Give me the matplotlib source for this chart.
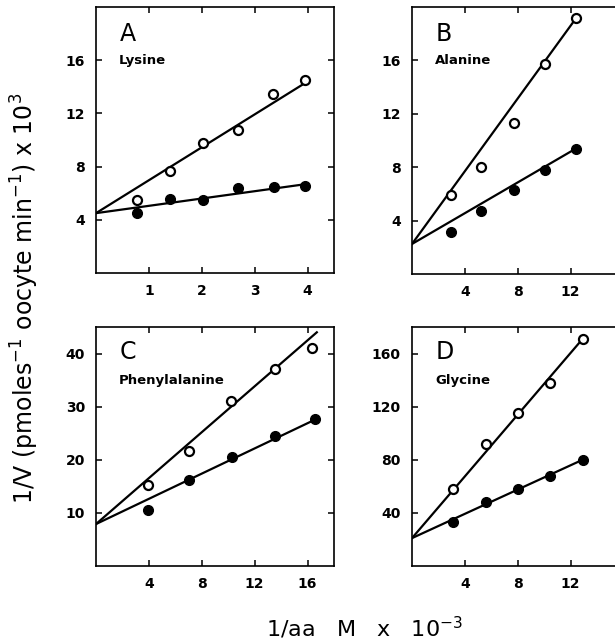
import numpy as np
import matplotlib.pyplot as plt

plt.rcParams.update({
    "font.family": "DejaVu Sans",
    "axes.linewidth": 1.2,
    "xtick.direction": "in",
    "ytick.direction": "in",
    "xtick.top": True,
    "ytick.right": True,
    "xtick.major.size": 4,
    "ytick.major.size": 4,
    "xtick.major.width": 1.1,
    "ytick.major.width": 1.1,
})

# ---------------- DATA ----------------
# A: Lysine
lys_x_open = [0.78, 1.4, 2.03, 2.68, 3.34, 3.95]
lys_y_open = [5.5, 7.7, 9.75, 10.75, 13.45, 14.5]
lys_x_fill = [0.78, 1.4, 2.03, 2.68, 3.36, 3.95]
lys_y_fill = [4.5, 5.6, 5.5, 6.4, 6.5, 6.55]
lys_line_open = ([0, 4.0], [4.5, 14.4])
lys_line_fill = ([0, 4.0], [4.5, 6.7])

# B: Alanine
ala_x_open = [2.93, 5.25, 7.7, 10.05, 12.4]
ala_y_open = [5.9, 8.0, 11.3, 15.75, 19.15]
ala_x_fill = [2.93, 5.25, 7.7, 10.05, 12.4]
ala_y_fill = [3.15, 4.75, 6.3, 7.8, 9.4]
ala_line_open = ([0, 12.4], [2.25, 19.15])
ala_line_fill = ([0, 12.4], [2.25, 9.4])

# C: Phenylalanine
phe_x_open = [3.9, 7.0, 10.2, 13.5, 16.3]
phe_y_open = [15.2, 21.7, 31.1, 37.1, 41.1]
phe_x_fill = [3.9, 7.05, 10.25, 13.5, 16.6]
phe_y_fill = [10.5, 16.25, 20.5, 24.5, 27.6]
phe_line_open = ([0, 16.7], [7.9, 44.0])
phe_line_fill = ([0, 16.6], [7.9, 27.6])

# D: Glycine
gly_x_open = [3.1, 5.6, 8.05, 10.4, 12.9]
gly_y_open = [58, 92, 115, 137.5, 171]
gly_x_fill = [3.1, 5.6, 8.05, 10.4, 12.9]
gly_y_fill = [33.25, 48.25, 58.25, 67.5, 80]
gly_line_open = ([0, 12.9], [21, 171])
gly_line_fill = ([0, 12.9], [21, 80])

panels = [
    ("A", "Lysine", lys_x_open, lys_y_open, lys_x_fill, lys_y_fill,
     lys_line_open, lys_line_fill, (0, 4.5), (0, 20), [1, 2, 3, 4], [4, 8, 12, 16]),
    ("B", "Alanine", ala_x_open, ala_y_open, ala_x_fill, ala_y_fill,
     ala_line_open, ala_line_fill, (0, 18), (0, 20), [4, 8, 12], [4, 8, 12, 16]),
    ("C", "Phenylalanine", phe_x_open, phe_y_open, phe_x_fill, phe_y_fill,
     phe_line_open, phe_line_fill, (0, 18), (0, 45), [4, 8, 12, 16], [10, 20, 30, 40]),
    ("D", "Glycine", gly_x_open, gly_y_open, gly_x_fill, gly_y_fill,
     gly_line_open, gly_line_fill, (0, 18), (0, 180), [4, 8, 12], [40, 80, 120, 160]),
]

# axes boxes in pixels (left, top, width, height) on a 615x642 canvas
# (right-hand panels run past the edge, as in the cropped original)
W, H = 615, 642
boxes = [(96, 7, 238, 266), (412, 7, 238, 267),
         (96, 327, 238, 239), (412, 327, 238, 239)]

# ---------------- PLOT ----------------
fig = plt.figure(figsize=(6.15, 6.42), dpi=100)

for (letter, name, xo, yo, xf, yf, lo, lf, xlim, ylim, xt, yt), (l, t, w, h) in zip(panels, boxes):
    ax = fig.add_axes([l / W, 1 - (t + h) / H, w / W, h / H])
    ax.plot(lo[0], lo[1], color='black', lw=1.6, zorder=2)
    ax.plot(lf[0], lf[1], color='black', lw=1.6, zorder=2)
    ax.plot(xo, yo, 'o', ms=6.5, mfc='white', mec='black', mew=1.6, zorder=3)
    ax.plot(xf, yf, 'o', ms=7, mfc='black', mec='black', zorder=3)
    ax.set_xlim(*xlim)
    ax.set_ylim(*ylim)
    ax.set_xticks(xt)
    ax.set_yticks(yt)
    ax.tick_params(labelsize=10, pad=8)
    for lab in ax.get_xticklabels() + ax.get_yticklabels():
        lab.set_fontweight('bold')
    ax.text(0.10, 0.945, letter, transform=ax.transAxes, fontsize=17,
            ha='left', va='top')
    ax.text(0.097, 0.825 if h > 250 else 0.805, name, transform=ax.transAxes,
            fontsize=9.5, fontweight='bold', ha='left', va='top')

fig.text(0.040, 0.535, r"1/V (pmoles$^{-1}$ oocyte min$^{-1}$) x 10$^3$",
         rotation=90, ha='center', va='center', fontsize=17)
fig.text(0.592, 0.008, r"1/aa   M   x   10$^{-3}$", ha='center', va='baseline',
         fontsize=16)

plt.savefig('out.png', dpi=100)
